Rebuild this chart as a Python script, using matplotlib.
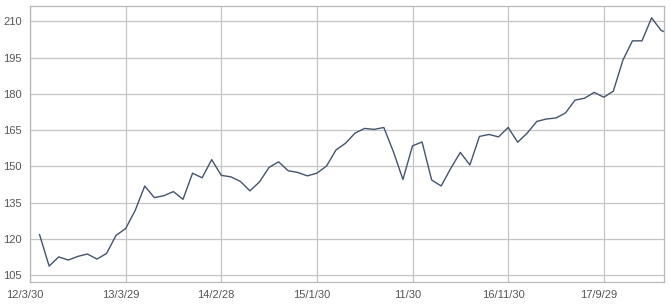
import numpy as np
import matplotlib
matplotlib.use("Agg")
from matplotlib import pyplot as plt
from matplotlib.transforms import ScaledTranslation

# Monthly series, first point has no value
values = [np.nan, 121.8, 108.8, 112.6, 111.3, 112.8, 113.8, 111.7, 114.0, 121.5,
          124.3, 131.8, 141.9, 137.1, 137.9, 139.6, 136.4, 147.2, 145.3, 152.8,
          146.3, 145.7, 143.8, 139.9, 143.6, 149.6, 151.9, 148.2, 147.5, 146.1,
          147.2, 150.1, 156.8, 159.6, 163.8, 165.7, 165.3, 166.1, 156.1, 144.6,
          158.5, 160.1, 144.4, 141.9, 149.2, 155.8, 150.6, 162.4, 163.2, 162.2,
          166.1, 160.0, 163.8, 168.6, 169.6, 170.0, 172.1, 177.4, 178.2, 180.6,
          178.6, 181.1, 193.9, 201.9, 201.9, 211.4, 206.2, 204.6]
tick_labels = ["12/3/30", "13/3/29", "14/2/28", "15/1/30", "11/30", "16/11/30", "17/9/29"]
y_ticks = [105, 120, 135, 150, 165, 180, 195, 210]

plt.rcParams["font.family"] = ["Liberation Sans", "DejaVu Sans"]

fig = plt.figure(figsize=(6.7, 3.05), dpi=100)
ax = fig.add_axes([30 / 670, 23.3 / 305, 634 / 670, 275.7 / 305])

x = np.arange(len(values))
ax.plot(x, values, color="#44546c", lw=1.0)

ax.set_xlim(0, 66.3)
ax.set_ylim(102.35, 216.3)
ax.set_xticks(np.arange(0, 10 * len(tick_labels), 10))
ax.set_xticklabels(tick_labels)
ax.set_yticks(y_ticks)

ax.grid(True, color="#c4c4c4", lw=0.9)
ax.set_axisbelow(True)
for s in ax.spines.values():
    s.set_color("#b8b8b8")
    s.set_linewidth(0.9)
ax.tick_params(length=0, labelsize=8, colors="#555555", pad=6)

# labels sit slightly left of their grid lines
offset = ScaledTranslation(-5 / 100, 0, fig.dpi_scale_trans)
for lab in ax.get_xticklabels():
    lab.set_transform(lab.get_transform() + offset)

fig.savefig("out.png", dpi=100)
